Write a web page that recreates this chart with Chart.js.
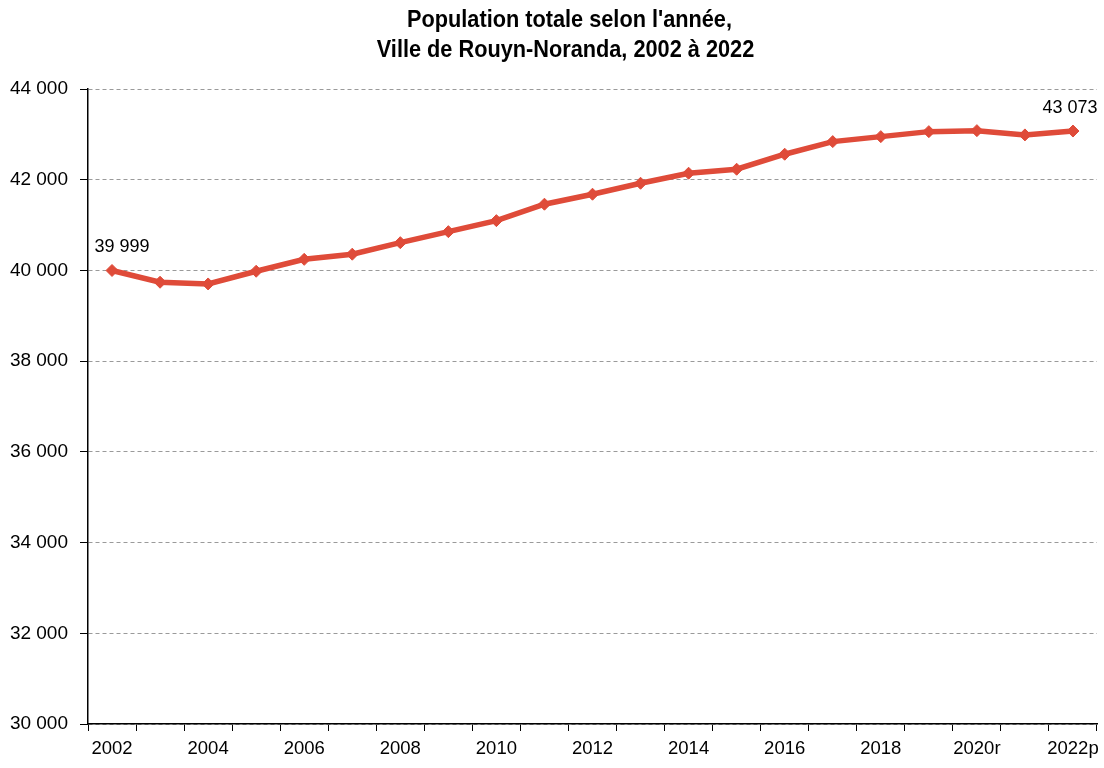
<!DOCTYPE html>
<html>
<head>
<meta charset="utf-8">
<script src="https://cdn.jsdelivr.net/npm/chart.js@4.4.1/dist/chart.umd.min.js"></script>
<style>
  html, body { margin: 0; padding: 0; background: #fff; }
  #wrap { width: 1104px; height: 768px; }
</style>
</head>
<body>
<div id="wrap"><canvas id="c" width="1104" height="768"></canvas></div>
<script>
const categories = ["2002","2003","2004","2005","2006","2007","2008","2009","2010","2011","2012",
  "2013","2014","2015","2016","2017","2018","2019","2020r","2021r","2022p"];
const population = [39999, 39740, 39702, 39982, 40245, 40358, 40612, 40855, 41098, 41460, 41680,
  41922, 42143, 42231, 42562, 42840, 42950, 43060, 43082, 42988, 43073];
const titleLines = ["Population totale selon l'année,", "Ville de Rouyn-Noranda, 2002 à 2022"];
const yMin = 30000, yMax = 44000, yStep = 2000;
const labelledPoints = [0, 20];

function fmt(v) { return String(v).replace(/\B(?=(\d{3})+(?!\d))/g, ' '); }

const titlePlugin = {
  id: 'customTitle',
  afterDraw(chart) {
    const ctx = chart.ctx;
    ctx.save();
    ctx.fillStyle = '#000';
    ctx.textAlign = 'center';
    ctx.textBaseline = 'middle';
    ctx.font = "bold 24px 'Liberation Sans', Arial, sans-serif";
    const sx = 0.905;
    ctx.scale(sx, 1);
    ctx.fillText(titleLines[0], 569.5 / sx, 20);
    ctx.fillText(titleLines[1], 565.5 / sx, 50);
    ctx.restore();
  }
};

const labelPlugin = {
  id: 'endLabels',
  afterDatasetsDraw(chart) {
    const ctx = chart.ctx;
    const meta = chart.getDatasetMeta(0);
    ctx.save();
    ctx.fillStyle = '#000';
    ctx.font = "18px 'Liberation Sans', Arial, sans-serif";
    ctx.textAlign = 'center';
    ctx.textBaseline = 'middle';
    labelledPoints.forEach(i => {
      const p = meta.data[i];
      const dx = i === 0 ? 10 : -3;
      ctx.fillText(fmt(population[i]), p.x + dx, p.y - 23);
    });
    ctx.restore();
  }
};

new Chart(document.getElementById('c'), {
  type: 'line',
  data: {
    labels: categories,
    datasets: [{
      data: population,
      borderColor: '#DF4B39',
      backgroundColor: '#DF4B39',
      borderWidth: 5.5,
      pointStyle: 'rectRot',
      pointRadius: 6,
      pointHoverRadius: 6,
      pointBorderWidth: 1,
      tension: 0,
      fill: false
    }]
  },
  options: {
    responsive: false,
    animation: false,
    devicePixelRatio: 1,
    layout: { padding: { top: 89, right: 5, left: 0, bottom: 0 } },
    plugins: {
      legend: { display: false },
      tooltip: { enabled: false },
      title: { display: false }
    },
    scales: {
      x: {
        offset: true,
        grid: {
          offset: true,
          drawOnChartArea: false,
          drawTicks: true,
          tickLength: 7,
          tickColor: '#000',
          color: '#000'
        },
        border: { color: '#000', width: 1.5 },
        ticks: {
          autoSkip: false,
          maxRotation: 0,
          color: '#000',
          padding: 7,
          font: { size: 18.5, family: "'Liberation Sans', Arial, sans-serif" },
          callback: function(val, idx) { return idx % 2 === 0 ? categories[idx] : ''; }
        },
        afterFit(scale) { scale.height = 44; scale.paddingLeft = 0; scale.paddingRight = 0; }
      },
      y: {
        min: yMin,
        max: yMax,
        grid: {
          color: '#9a9a9a',
          lineWidth: 1,
          tickLength: 8,
          tickColor: '#000'
        },
        border: { color: '#000', width: 1.5, dash: [4, 3] },
        ticks: {
          stepSize: yStep,
          color: '#000',
          padding: 12,
          font: { size: 19, family: "'Liberation Sans', Arial, sans-serif" },
          callback: v => fmt(v)
        },
        afterFit(scale) { scale.width = 88; }
      }
    }
  },
  plugins: [titlePlugin, labelPlugin]
});
</script>
</body>
</html>
